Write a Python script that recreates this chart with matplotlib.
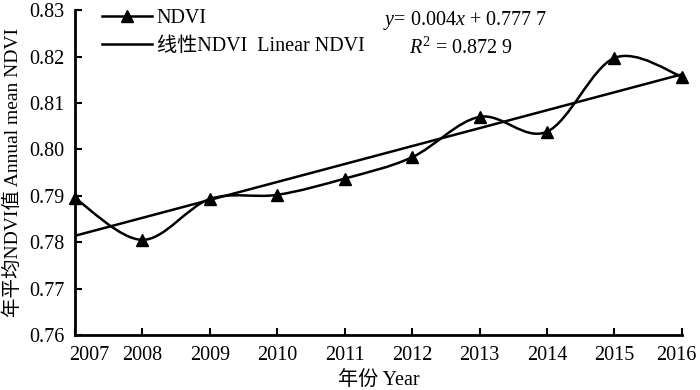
import matplotlib
matplotlib.use('Agg')
import matplotlib.pyplot as plt
from matplotlib.path import Path
from matplotlib.patches import PathPatch
from matplotlib.lines import Line2D
from matplotlib.transforms import ScaledTranslation
import numpy as np

plt.rcParams['font.family'] = ['Liberation Serif', 'Noto Sans CJK SC']
plt.rcParams['mathtext.fontset'] = 'custom'
plt.rcParams['mathtext.rm'] = 'Liberation Serif'
plt.rcParams['mathtext.it'] = 'Liberation Serif:italic'

# ========= data =========
years = [2007, 2008, 2009, 2010, 2011, 2012, 2013, 2014, 2015, 2016]
ndvi = [0.7895, 0.7805, 0.7893, 0.7902, 0.7937, 0.7983, 0.8070, 0.8038, 0.8197, 0.8157]
eq_text = r'$y$= 0.004$x$ + 0.777 7'
r2_text = r'$R^{2}$ = 0.872 9'
yticks = [0.76, 0.77, 0.78, 0.79, 0.80, 0.81, 0.82, 0.83]

fs = 14.5
fig = plt.figure(figsize=(7, 3.9), dpi=100)
ax = fig.add_axes([0.107, 0.141, 0.867, 0.833])

# smoothed curve (excel-like bezier through the points)
x = np.array(years, dtype=float)
y = np.array(ndvi)
n = len(x)
verts = [(x[0], y[0])]
codes = [Path.MOVETO]
for i in range(n - 1):
    p0 = np.array([x[max(i - 1, 0)], y[max(i - 1, 0)]])
    p1 = np.array([x[i], y[i]])
    p2 = np.array([x[i + 1], y[i + 1]])
    p3 = np.array([x[min(i + 2, n - 1)], y[min(i + 2, n - 1)]])
    c1 = p1 + (p2 - p0) / 6
    c2 = p2 - (p3 - p1) / 6
    verts += [tuple(c1), tuple(c2), tuple(p2)]
    codes += [Path.CURVE4] * 3
ax.add_patch(PathPatch(Path(verts, codes), fill=False, lw=1.8, color='black', clip_on=False))
ax.plot(years, ndvi, ls='none', marker='^', ms=8, color='black', clip_on=False)

# linear trend fitted on the series
idx = np.arange(1, n + 1)
k, b = np.polyfit(idx, y, 1)
ax.plot(years, k * idx + b, color='black', lw=1.8)

ax.set_xlim(2007, 2016)
ax.set_ylim(0.76, 0.83)
ax.set_xticks(years)
ax.set_yticks(yticks)
ax.set_yticklabels(['%.2f' % v for v in yticks])
ax.tick_params(direction='in', length=5, width=1.5, labelsize=fs)
ax.tick_params(axis='x', pad=8)
ax.tick_params(axis='y', pad=7.5)
for s in ['top', 'right']:
    ax.spines[s].set_visible(False)
for s in ['left', 'bottom']:
    ax.spines[s].set_linewidth(2)

# first/last year labels nudged inwards like the original
xl = ax.get_xticklabels()
xl[0].set_transform(xl[0].get_transform() + ScaledTranslation(10 / 72, 0, fig.dpi_scale_trans))
xl[-1].set_transform(xl[-1].get_transform() + ScaledTranslation(-4 / 72, 0, fig.dpi_scale_trans))

ax.set_xlabel('年份 Year', fontsize=fs, labelpad=4)
ax.set_ylabel('年平均NDVI值 Annual mean NDVI', fontsize=14, labelpad=5)

handles = [Line2D([], [], color='black', lw=1.8, marker='^', ms=8),
           Line2D([], [], color='black', lw=1.8)]
ax.legend(handles, ['NDVI', '线性NDVI  Linear NDVI'], loc='upper left',
          bbox_to_anchor=(0.015, 1.06), frameon=False, fontsize=fs,
          handlelength=2.5, handletextpad=0.2, labelspacing=0.45)

ax.text(0.508, 0.955, eq_text, transform=ax.transAxes, fontsize=fs)
ax.text(0.55, 0.865, r2_text, transform=ax.transAxes, fontsize=fs)

fig.savefig('out.png', dpi=100)
